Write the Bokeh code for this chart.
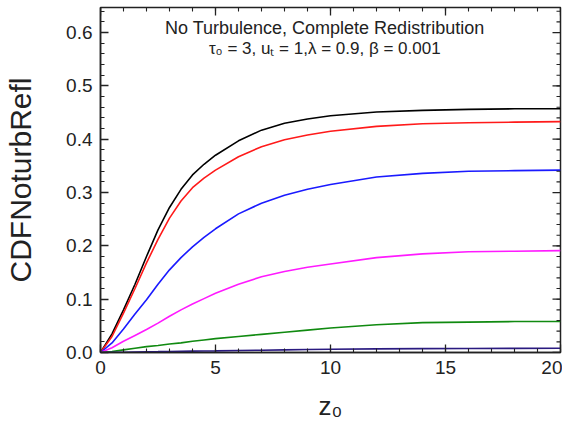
import numpy as np
from bokeh.plotting import figure
from bokeh.models import (LinearAxis, SingleIntervalTicker, PrintfTickFormatter,
                          Range1d, Label)
from bokeh.embed import file_html
from bokeh.resources import INLINE

# ---- data ----
z0 = [0, 0.5, 1, 1.5, 2, 2.5, 3, 3.5, 4, 4.5, 5, 6, 7, 8, 9, 10, 12, 14, 16, 18, 20]
curve_black = [0, 0.035, 0.080, 0.128, 0.180, 0.230, 0.272, 0.306, 0.333, 0.353, 0.370,
               0.397, 0.417, 0.430, 0.438, 0.444, 0.451, 0.454, 0.456, 0.457, 0.457]
curve_red = [0, 0.030, 0.074, 0.120, 0.168, 0.212, 0.252, 0.284, 0.309, 0.327, 0.342,
             0.367, 0.386, 0.399, 0.408, 0.415, 0.424, 0.429, 0.431, 0.432, 0.433]
curve_blue = [0, 0.018, 0.044, 0.072, 0.099, 0.128, 0.155, 0.178, 0.198, 0.216, 0.232,
              0.260, 0.280, 0.295, 0.306, 0.315, 0.329, 0.336, 0.340, 0.341, 0.342]
curve_magenta = [0, 0.009, 0.021, 0.032, 0.043, 0.055, 0.068, 0.080, 0.091, 0.101, 0.111,
                 0.128, 0.142, 0.152, 0.160, 0.166, 0.178, 0.185, 0.189, 0.190, 0.191]
curve_green = [0, 0.002, 0.005, 0.008, 0.011, 0.013, 0.016, 0.018, 0.021, 0.0235, 0.026,
               0.030, 0.034, 0.038, 0.042, 0.046, 0.052, 0.056, 0.057, 0.058, 0.058]
curve_navy = [0, 0.0003, 0.0006, 0.001, 0.0013, 0.0016, 0.002, 0.0023, 0.0026, 0.0028, 0.003,
              0.0037, 0.0043, 0.005, 0.0055, 0.006, 0.0068, 0.0073, 0.0076, 0.0078, 0.008]

series = [curve_black, curve_red, curve_blue, curve_magenta, curve_green, curve_navy]
colors = ["#000000", "#ff1a1a", "#1a1aff", "#ff1aff", "#108a10", "#2a1a80"]

X_MAX, Y_MAX = 20, 0.647
X_MAJOR, Y_MAJOR, N_MINOR = 5, 0.1, 5

FONT = "Liberation Sans"
AXC = "#222222"
FW, FH = 460, 345

p = figure(width=562, height=422, frame_width=FW, frame_height=FH,
           output_backend="svg", toolbar_location=None,
           x_range=Range1d(0, X_MAX), y_range=Range1d(0, Y_MAX),
           min_border_left=100, min_border_right=2, min_border_top=7,
           min_border_bottom=70, x_axis_location=None, y_axis_location=None)
p.grid.visible = False
p.outline_line_color = AXC
p.outline_line_width = 1.5
p.background_fill_color = "white"
p.border_fill_color = "white"

for ys, c in zip(series, colors):
    p.line(z0, ys, line_color=c, line_width=1.6)

def style(ax):
    ax.major_tick_in = 8
    ax.major_tick_out = 0
    ax.minor_tick_in = 4
    ax.minor_tick_out = 0
    ax.axis_line_color = AXC
    ax.axis_line_width = 1.5
    ax.major_tick_line_color = AXC
    ax.minor_tick_line_color = AXC
    ax.major_tick_line_width = 1.3
    ax.minor_tick_line_width = 1.1
    ax.major_label_text_font = FONT
    ax.major_label_text_font_size = "19px"
    ax.major_label_text_color = AXC
    ax.axis_label_text_font = FONT
    ax.axis_label_text_font_style = "normal"
    ax.axis_label_text_color = AXC

xb = LinearAxis(ticker=SingleIntervalTicker(interval=X_MAJOR, num_minor_ticks=N_MINOR),
                axis_label="z\u2080")
style(xb)
xb.major_label_standoff = 8
xb.axis_label_standoff = 14
xb.axis_label_text_font_size = "26px"
p.add_layout(xb, "below")

yl = LinearAxis(ticker=SingleIntervalTicker(interval=Y_MAJOR, num_minor_ticks=N_MINOR),
                formatter=PrintfTickFormatter(format="%.1f"),
                axis_label="CDFNoturbRefl")
style(yl)
yl.major_label_standoff = 8
yl.axis_label_standoff = 26
yl.axis_label_text_font_size = "30px"
p.add_layout(yl, "left")

# inward ticks on the top and right frame edges (mirroring the bottom/left axes)
x_major = np.arange(0, X_MAX + 1e-9, X_MAJOR)
x_minor = np.arange(0, X_MAX + 1e-9, X_MAJOR / N_MINOR)
y_major = np.arange(0, Y_MAX + 1e-9, Y_MAJOR)
y_minor = np.arange(0, Y_MAX + 1e-9, Y_MAJOR / N_MINOR)
dy_major, dy_minor = 8 * Y_MAX / FH, 4 * Y_MAX / FH
dx_major, dx_minor = 8 * X_MAX / FW, 4 * X_MAX / FW

p.segment(x0=x_minor, y0=[Y_MAX] * len(x_minor), x1=x_minor,
          y1=[Y_MAX - dy_minor] * len(x_minor), line_color=AXC, line_width=1.1)
p.segment(x0=x_major, y0=[Y_MAX] * len(x_major), x1=x_major,
          y1=[Y_MAX - dy_major] * len(x_major), line_color=AXC, line_width=1.3)
p.segment(x0=[X_MAX] * len(y_minor), y0=y_minor, x1=[X_MAX - dx_minor] * len(y_minor),
          y1=y_minor, line_color=AXC, line_width=1.1)
p.segment(x0=[X_MAX] * len(y_major), y0=y_major, x1=[X_MAX - dx_major] * len(y_major),
          y1=y_major, line_color=AXC, line_width=1.3)

p.add_layout(Label(x=9.75, y=0.609, text="No Turbulence, Complete Redistribution",
                   text_font=FONT, text_font_size="18px", text_align="center",
                   text_baseline="middle", text_color=AXC))
p.add_layout(Label(x=9.75, y=0.571,
                   text="\u03c4\u2080 = 3, u\u209c = 1,\u03bb = 0.9, \u03b2 = 0.001",
                   text_font=FONT, text_font_size="17px", text_align="center",
                   text_baseline="middle", text_color=AXC))

open("out.html", "w").write(file_html(p, INLINE))
